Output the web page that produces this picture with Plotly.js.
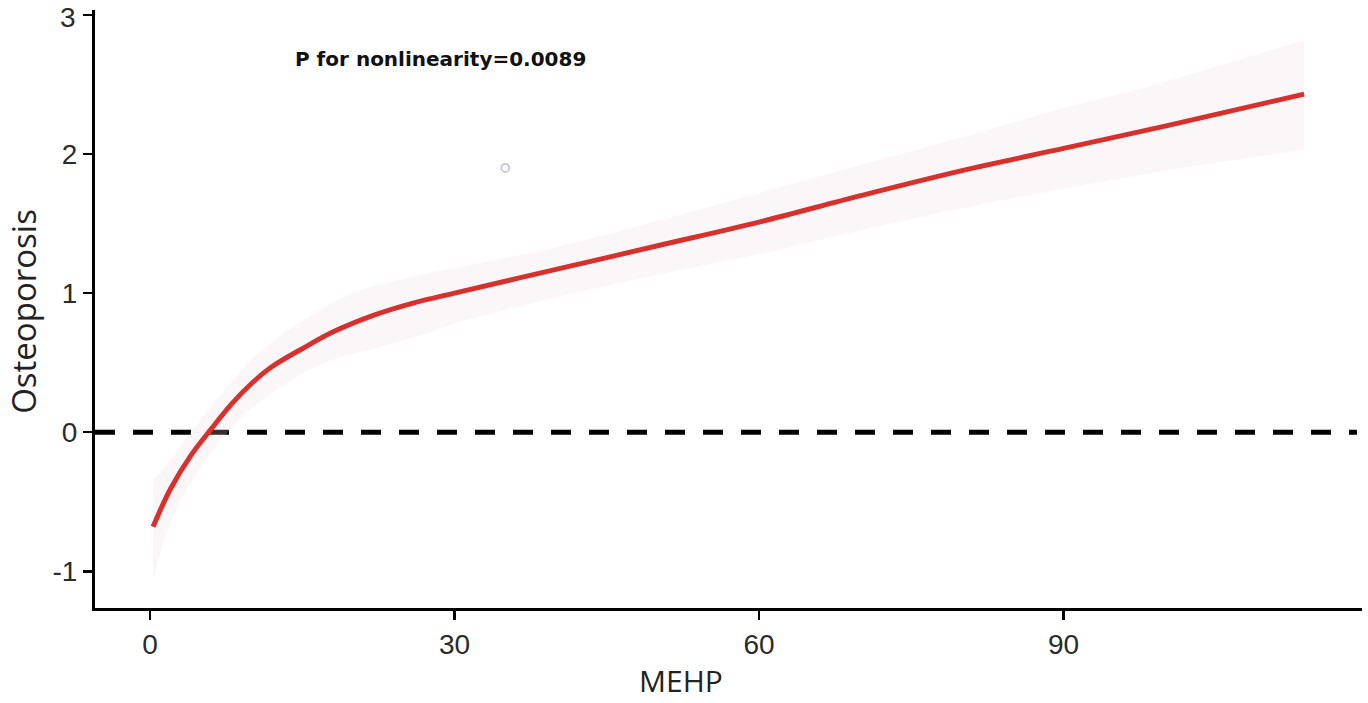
<!DOCTYPE html>
<html>
<head>
<meta charset="utf-8">
<script src="https://cdn.plot.ly/plotly-3.0.1.min.js"></script>
<style>
  html, body { margin: 0; padding: 0; background: #ffffff; }
  #chart { width: 1368px; height: 703px; }
</style>
</head>
<body>
<div id="chart"></div>
<script>
// MEHP values (x)
const mehp = [0.3, 2, 4, 6, 8, 10, 12, 15, 18, 22, 26, 30, 40, 50, 60, 70, 80, 90, 100, 113.7];
// Fitted spline estimate
const estimate = [-0.68, -0.41, -0.17, 0.02, 0.20, 0.35, 0.47, 0.60, 0.72, 0.84, 0.93, 1.00, 1.17, 1.34, 1.51, 1.70, 1.88, 2.04, 2.20, 2.43];
// 95% CI upper / lower
const upper = [-0.35, -0.20, 0.00, 0.18, 0.36, 0.52, 0.65, 0.80, 0.93, 1.05, 1.12, 1.18, 1.33, 1.52, 1.72, 1.92, 2.12, 2.33, 2.52, 2.82];
const lower = [-1.07, -0.65, -0.36, -0.15, 0.03, 0.17, 0.28, 0.42, 0.52, 0.60, 0.68, 0.78, 0.97, 1.13, 1.28, 1.45, 1.61, 1.75, 1.88, 2.03];
// stray point
const pointX = [35.0];
const pointY = [1.90];
// ticks
const xTicks = [0, 30, 60, 90];
const yTicks = [-1, 0, 1, 2, 3];
const annotationText = "P for nonlinearity=0.0089";
const xTitle = "MEHP";
const yTitle = "Osteoporosis";

const traces = [
  { x: mehp, y: lower, type: 'scatter', mode: 'lines', line: {width: 0, color: 'rgba(0,0,0,0)', shape: 'spline'}, hoverinfo: 'skip', showlegend: false },
  { x: mehp, y: upper, type: 'scatter', mode: 'lines', fill: 'tonexty', fillcolor: 'rgba(236,218,228,0.22)', line: {width: 0, color: 'rgba(0,0,0,0)', shape: 'spline'}, hoverinfo: 'skip', showlegend: false },
  { x: mehp, y: estimate, type: 'scatter', mode: 'lines', line: {color: '#d6312d', width: 5, shape: 'spline'}, showlegend: false },
  { x: pointX, y: pointY, type: 'scatter', mode: 'markers', marker: {symbol: 'circle-open', size: 8, color: '#b9bccd', line: {width: 1.5}}, showlegend: false }
];

const tickFont = {family: 'Liberation Sans, Arial, sans-serif', size: 28, color: '#2b2b2b'};
const topTick = yTicks[yTicks.length - 1];

const layout = {
  width: 1368, height: 703,
  margin: {l: 95, r: 6, t: 10, b: 95},
  paper_bgcolor: '#ffffff', plot_bgcolor: '#ffffff',
  showlegend: false,
  xaxis: {
    range: [-5.42, 119.4], tickvals: xTicks, ticktext: xTicks.map(String),
    showgrid: false, zeroline: false, showline: true, linecolor: '#000', linewidth: 3,
    ticks: 'outside', ticklen: 9, tickwidth: 2.5, tickcolor: '#000',
    tickfont: tickFont, title: {text: ''}
  },
  yaxis: {
    range: [-1.264, 3.035], tickvals: yTicks,
    ticktext: yTicks.map(v => v === topTick ? '' : String(v)),
    showgrid: false, zeroline: false, showline: true, linecolor: '#000', linewidth: 3,
    ticks: 'outside', ticklen: 9, tickwidth: 2.5, tickcolor: '#000',
    tickfont: tickFont, title: {text: ''}
  },
  shapes: [
    {type: 'line', xref: 'paper', x0: 0, x1: 0.996, yref: 'y', y0: 0, y1: 0, layer: 'below',
     line: {color: '#000', width: 5, dash: '20px,18px'}}
  ],
  annotations: [
    {text: '<b>' + annotationText + '</b>', xref: 'paper', yref: 'paper', x: 0.2723, y: 0.918, showarrow: false,
     xanchor: 'center', yanchor: 'middle', font: {family: 'DejaVu Sans, sans-serif', size: 20, color: '#111'}},
    {text: xTitle, xref: 'paper', yref: 'paper', x: 0.4625, y: -0.122, showarrow: false,
     xanchor: 'center', yanchor: 'middle', font: {family: 'Open Sans, sans-serif', size: 30, color: '#222'}},
    {text: yTitle, xref: 'paper', yref: 'paper', x: -0.057, y: 0.4966, showarrow: false, textangle: -90,
     xanchor: 'center', yanchor: 'middle', font: {family: 'Open Sans, sans-serif', size: 33, color: '#222'}},
    {text: String(topTick), xref: 'paper', yref: 'y', x: -0.0135, y: topTick, showarrow: false,
     xanchor: 'right', yanchor: 'middle', xshift: 0, yshift: -3, font: tickFont}
  ]
};

Plotly.newPlot('chart', traces, layout, {displayModeBar: false, staticPlot: true});
</script>
</body>
</html>
